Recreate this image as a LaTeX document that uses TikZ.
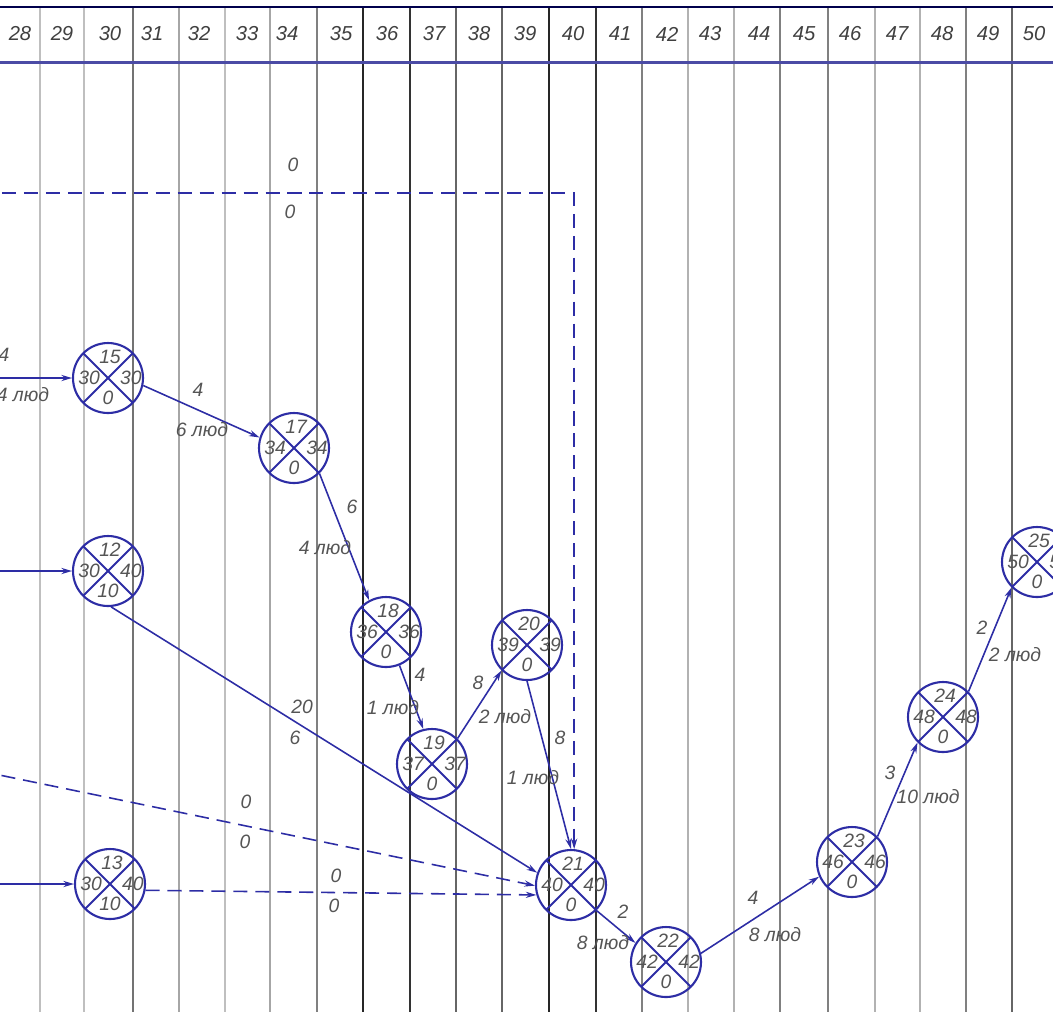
\documentclass[tikz,border=0pt]{standalone}
\usepackage{fontspec}
\setmainfont{Liberation Sans}
\usetikzlibrary{arrows.meta, calc}
\definecolor{netblue}{RGB}{45,45,165}
\definecolor{hdrblue}{RGB}{75,75,165}
\definecolor{inkgray}{RGB}{85,85,85}

\begin{document}
\begin{tikzpicture}[
    x=0.02cm, y=-0.02cm,
    evnum/.style={font=\fontsize{11}{12}\selectfont\itshape, text=inkgray, inner sep=0pt},
    event/.style n args={4}{circle, draw=netblue, line width=1.2pt, minimum size=1.4cm, inner sep=0pt,
        path picture={\draw[netblue, line width=1.1pt]
            (path picture bounding box.north west) -- (path picture bounding box.south east)
            (path picture bounding box.north east) -- (path picture bounding box.south west);},
        label={[evnum, xshift=0.04cm, yshift=0.42cm]center:#1},
        label={[evnum, xshift=-0.38cm]center:#2},
        label={[evnum, xshift=0.46cm]center:#3},
        label={[evnum, yshift=-0.4cm]center:#4}},
    hdr/.style={font=\fontsize{11.5}{12}\selectfont\itshape, text=black!75, inner sep=0pt},
    lbl/.style={font=\fontsize{11}{12}\selectfont\itshape, text=inkgray, inner sep=1pt},
    work/.style={-{Stealth[length=6pt, width=3.5pt]}, netblue, line width=0.9pt},
    dummy/.style={work, dash pattern=on 8pt off 4.5pt}
]

\useasboundingbox (0,0) rectangle (1053,1012);

% time scale
\foreach \gx/\gs in {40/25, 84/25, 133/55, 179/35, 225/25, 270/35, 317/50, 363/85, 410/80, 456/60, 502/60,
                     549/85, 596/80, 642/50, 688/30, 734/30, 780/50, 828/50, 875/30, 920/30, 966/50, 1012/60}
    \draw[black!\gs, line width=0.8pt] (\gx,7) -- (\gx,1012);
\draw[black!70!blue, line width=1pt] (0,7) -- (1053,7);
\draw[hdrblue, line width=1.7pt] (0,62) -- (1053,62);
\foreach \d/\hx in {28/20, 29/62, 30/110, 31/152, 32/199, 33/247, 34/287, 35/341, 36/387, 37/434, 38/479, 39/525,
                    40/573, 41/620, 42/667, 43/710, 44/759, 45/804, 46/850, 47/897, 48/942, 49/988, 50/1034}
    \node[hdr] (h\d) at (\hx,34) {\d};

% events
\node[event={15}{30}{30}{0}] (e15) at (108,378) {};
\node[event={17}{34}{34}{0}] (e17) at (294,448) {};
\node[event={12}{30}{40}{10}] (e12) at (108,571) {};
\node[event={18}{36}{36}{0}] (e18) at (386,632) {};
\node[event={20}{39}{39}{0}] (e20) at (527,645) {};
\node[event={19}{37}{37}{0}] (e19) at (432,764) {};
\node[event={13}{30}{40}{10}] (e13) at (110,884) {};
\node[event={21}{40}{40}{0}] (e21) at (571,885) {};
\node[event={22}{42}{42}{0}] (e22) at (666,962) {};
\node[event={23}{46}{46}{0}] (e23) at (852,862) {};
\node[event={24}{48}{48}{0}] (e24) at (943,717) {};
\node[event={25}{50}{50}{0}] (e25) at (1037,562) {};

\coordinate (in15) at (-20,378);
\coordinate (in12) at (-20,571);
\coordinate (in13) at (-20,884);
\coordinate (top0) at (-20,193);
\coordinate (mid0) at (-20,771);

% works
\draw[work] (in15) -- (e15);
\draw[work] (in12) -- (e12);
\draw[work] (in13) -- (e13);
\draw[work] (e15.-12) -- (e17.163);
\draw[work] (e17.south east) -- (e18.118);
\draw[work] (e18.-68) -- (e19.104);
\draw[work] (e19.north east) -- (e20.south west);
\draw[work] (e20.south) -- (e21.north);
\draw[work] (e12.-85) -- (e21.160);
\draw[dummy] (top0) -| (e21.85);
\draw[dummy] (mid0) -- (e21.181);
\draw[dummy] (e13.-10) -- (e21.196);
\draw[work] (e21.south east) -- (e22.148);
\draw[work] (e22.14) -- (e23.204);
\draw[work] (e23.north east) -- (e24.south west);
\draw[work] (e24.north east) -- (e25.south west);

% durations and crews
\node[lbl] (l15a) at (4,355) {4};
\node[lbl] (l15b) at (23,395) {4 люд};
\node[lbl] (l17a) at (198,390) {4};
\node[lbl] (l17b) at (202,430) {6 люд};
\node[lbl] (l18a) at (352,507) {6};
\node[lbl] (l18b) at (325,548) {4 люд};
\node[lbl] (l19a) at (420,675) {4};
\node[lbl] (l19b) at (393,708) {1 люд};
\node[lbl] (l20a) at (478,683) {8};
\node[lbl] (l20b) at (505,717) {2 люд};
\node[lbl] (l21a) at (560,738) {8};
\node[lbl] (l21b) at (533,778) {1 люд};
\node[lbl] (l21c) at (302,707) {20};
\node[lbl] (l21d) at (295,738) {6};
\node[lbl] (l21e) at (293,165) {0};
\node[lbl] (l21f) at (290,212) {0};
\node[lbl] (l21g) at (246,802) {0};
\node[lbl] (l21h) at (245,842) {0};
\node[lbl] (l21i) at (336,876) {0};
\node[lbl] (l21j) at (334,906) {0};
\node[lbl] (l22a) at (623,912) {2};
\node[lbl] (l22b) at (603,943) {8 люд};
\node[lbl] (l23a) at (753,898) {4};
\node[lbl] (l23b) at (775,935) {8 люд};
\node[lbl] (l24a) at (890,773) {3};
\node[lbl] (l24b) at (928,797) {10 люд};
\node[lbl] (l25a) at (982,628) {2};
\node[lbl] (l25b) at (1015,655) {2 люд};

\end{tikzpicture}
\end{document}
